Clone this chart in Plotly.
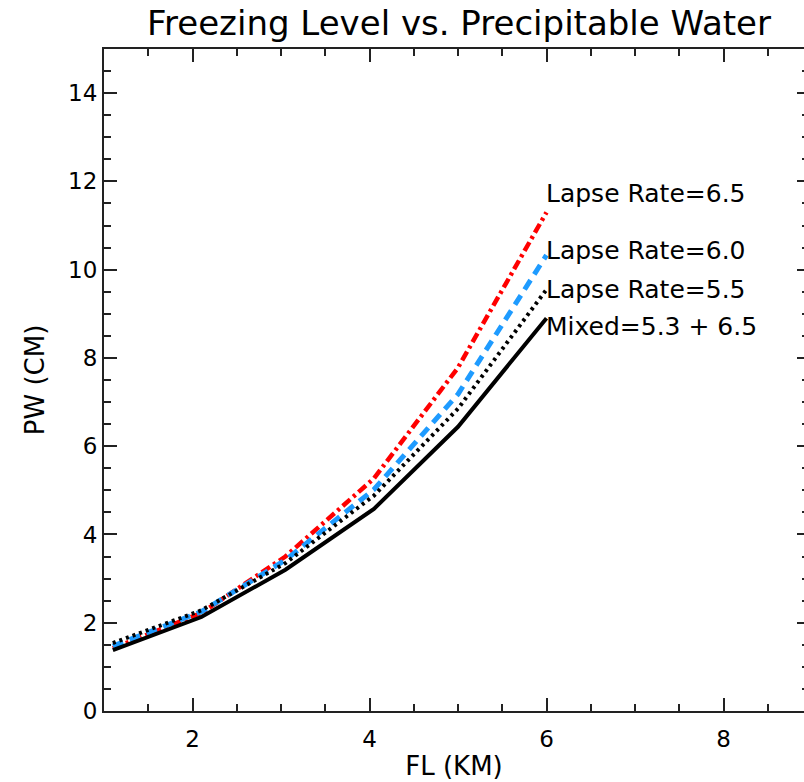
import plotly.graph_objects as go

# Data
fl_km = [1.1, 2.1, 3.05, 4.05, 5.0, 6.0]
pw_lapse_65 = [1.42, 2.22, 3.50, 5.27, 7.78, 11.30]
pw_lapse_60 = [1.47, 2.25, 3.42, 5.02, 7.18, 10.33]
pw_lapse_55 = [1.54, 2.28, 3.35, 4.88, 6.85, 9.55]
pw_mixed = [1.38, 2.13, 3.20, 4.58, 6.44, 8.90]

labels = ["Lapse Rate=6.5", "Lapse Rate=6.0", "Lapse Rate=5.5", "Mixed=5.3 + 6.5"]
label_y = [11.72, 10.43, 9.55, 8.72]

FONT = "DejaVu Sans"

fig = go.Figure()
fig.add_trace(go.Scatter(x=fl_km, y=pw_lapse_65, mode="lines", name=labels[0],
                         line=dict(color="#ff0000", width=4.5, dash="10px,4px,3px,4px")))
fig.add_trace(go.Scatter(x=fl_km, y=pw_lapse_60, mode="lines", name=labels[1],
                         line=dict(color="#1e9bff", width=5, dash="11px,7px")))
fig.add_trace(go.Scatter(x=fl_km, y=pw_lapse_55, mode="lines", name=labels[2],
                         line=dict(color="#000000", width=4, dash="3px,4px")))
fig.add_trace(go.Scatter(x=fl_km, y=pw_mixed, mode="lines", name=labels[3],
                         line=dict(color="#000000", width=4)))
# invisible trace to activate the right-side tick axis
fig.add_trace(go.Scatter(x=[fl_km[0]], y=[pw_mixed[0]], yaxis="y2", mode="markers",
                         marker=dict(opacity=0), showlegend=False, hoverinfo="skip"))

for txt, yv in zip(labels, label_y):
    fig.add_annotation(x=fl_km[-1], y=yv, text=txt, showarrow=False,
                       xanchor="left", yanchor="middle", xshift=-3,
                       font=dict(family=FONT, size=25, color="black"))

axis_common = dict(ticks="inside", tickwidth=1.5, tickcolor="#222",
                   showgrid=False, zeroline=False,
                   tickfont=dict(family=FONT, size=23, color="black"))

fig.update_layout(
    width=804, height=782,
    margin=dict(l=104, r=0, t=49, b=71),
    paper_bgcolor="white", plot_bgcolor="white",
    showlegend=False,
    title=dict(text="Freezing Level vs. Precipitable Water",
               font=dict(family=FONT, size=34, color="black"),
               x=459 / 804, xanchor="center", xref="container",
               y=1 - 23 / 782, yanchor="middle", yref="container"),
    xaxis=dict(range=[1, 1 + 700 / 88.5], tick0=0, dtick=2, ticklen=13,
               showline=True, linecolor="#222", linewidth=2, mirror="ticks",
               minor=dict(dtick=0.5, tick0=0, ticklen=7, ticks="inside", tickcolor="#222", tickwidth=1.5),
               title=dict(text="FL (KM)", font=dict(family=FONT, size=26, color="black"), standoff=6),
               ticklabelstandoff=6,
               **axis_common),
    yaxis=dict(range=[0, 15], tick0=0, dtick=2, ticklen=13,
               showline=True, linecolor="#222", linewidth=2, mirror=False,
               minor=dict(dtick=0.5, tick0=0, ticklen=7, ticks="inside", tickcolor="#222", tickwidth=1.5),
               title=dict(text="PW (CM)", font=dict(family=FONT, size=26, color="black"), standoff=16),
               ticklabelstandoff=0,
               **axis_common),
    yaxis2=dict(range=[0, 15], overlaying="y", side="right", anchor="free", position=1,
                tick0=0, dtick=2, ticklen=7, ticks="inside", tickcolor="#222", tickwidth=1.5,
                minor=dict(dtick=0.5, tick0=0, ticklen=2, ticks="inside", tickcolor="#222", tickwidth=1.5),
                showline=False, showgrid=False, zeroline=False, showticklabels=False),
)

fig.write_html("out.html")
